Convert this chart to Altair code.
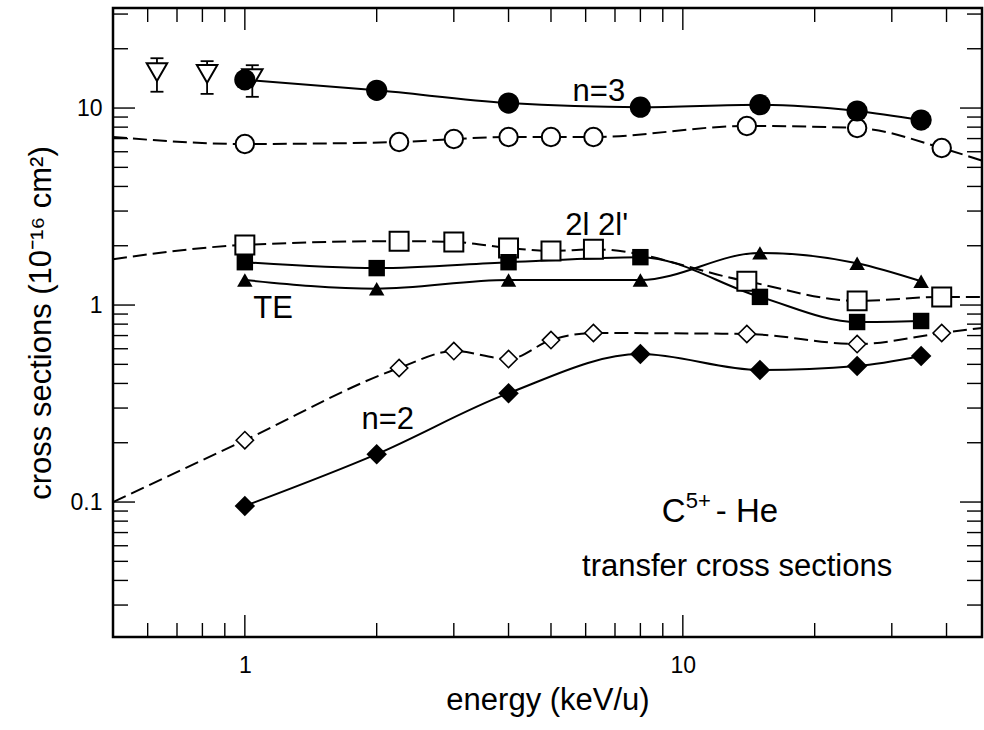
import altair as alt
import pandas as pd

FONT = "Liberation Sans"

# ---------------- data ----------------
# energy in keV/u, cross sections in 1e-16 cm^2
E_EXP = [1, 2, 4, 8, 15, 25, 35]
N3_FULL = [13.9, 12.3, 10.6, 10.1, 10.4, 9.66, 8.69]      # closed circles
L2L2_FULL = [1.65, 1.54, 1.65, 1.75, 1.10, 0.82, 0.83]    # closed squares
TE_FULL = [1.34, 1.21, 1.34, 1.34, 1.84, 1.63, 1.32]      # closed triangles
N2_FULL = [0.0955, 0.175, 0.357, 0.564, 0.468, 0.490, 0.551]  # closed diamonds

E_CALC = [1, 2.25, 3, 4, 5, 6.25, 14, 25, 39]
N3_OPEN = [6.57, 6.72, 6.96, 7.13, 7.13, 7.13, 8.11, 7.92, 6.27]     # open circles
L2L2_OPEN = [2.02, 2.11, 2.09, 1.95, 1.88, 1.92, 1.32, 1.05, 1.10]   # open squares
N2_OPEN = [0.206, 0.479, 0.584, 0.532, 0.664, 0.721, 0.713, 0.634, 0.721]  # open diamonds

# dashed curves continue to the frame edges
E_EDGE = [0.5, 50]
N3_OPEN_EDGE = [7.13, 5.26]
L2L2_OPEN_EDGE = [1.71, 1.10]
N2_OPEN_EDGE = [0.100, 0.773]

# open down-triangles with error bars
E_TRI = [0.63, 0.82, 1.04]
TRI_Y = [15.2, 14.9, 14.2]
TRI_HI = [17.9, 17.3, 16.5]
TRI_LO = [12.1, 11.8, 11.4]

# annotations
LABELS = ["n=3", "2l 2l'", "TE", "n=2"]
LABEL_E = [6.43, 6.36, 1.16, 2.12]
LABEL_S = [12.06, 2.52, 0.954, 0.261]
ION_E = [12.4]
ION_S = [0.089]
SUB_LABEL = ["transfer cross sections"]
SUB_E = [13.3]
SUB_S = [0.0468]

# axis ticks
X_MAJOR = [1, 10]
X_MINOR = [0.5, 0.6, 0.7, 0.8, 0.9, 2, 3, 4, 5, 6, 7, 8, 9, 20, 30, 40]
Y_MAJOR = [0.1, 1, 10]
Y_MINOR = [0.03, 0.04, 0.05, 0.06, 0.07, 0.08, 0.09,
           0.2, 0.3, 0.4, 0.5, 0.6, 0.7, 0.8, 0.9,
           2, 3, 4, 5, 6, 7, 8, 9, 20, 30]

# ---------------- layout ----------------
W, H = 869, 629
LEFT, TOP = 113, 8
xs = alt.Scale(type="log", domain=[0.5, 48.2], nice=False)
ys = alt.Scale(type="log", domain=[0.02065, 32.2], nice=False)

X_AXIS = alt.Axis(values=X_MAJOR, format="~g", ticks=False, tickSize=0, domain=False,
                  grid=False, labelPadding=17, title="energy (keV/u)", titlePadding=8)
Y_AXIS = alt.Axis(values=Y_MAJOR, format="~g", ticks=False, tickSize=0, domain=False,
                  grid=False, labelPadding=11,
                  title="cross sections (10\u207b\u00b9\u2076 cm\u00b2)", titlePadding=13)


def X(field="e"):
    return alt.X(f"{field}:Q", scale=xs, axis=X_AXIS)


def Y(field="s"):
    return alt.Y(f"{field}:Q", scale=ys, axis=Y_AXIS)


def frame(e, s, series):
    return pd.DataFrame({"e": e, "s": s, "series": series})


solid_df = pd.concat([
    frame(E_EXP, N3_FULL, "n3"),
    frame(E_EXP, L2L2_FULL, "l2"),
    frame(E_EXP, TE_FULL, "te"),
    frame(E_EXP, N2_FULL, "n2"),
])
dashed_df = pd.concat([
    frame([E_EDGE[0]] + E_CALC + [E_EDGE[1]], [N3_OPEN_EDGE[0]] + N3_OPEN + [N3_OPEN_EDGE[1]], "n3"),
    frame([E_EDGE[0]] + E_CALC + [E_EDGE[1]], [L2L2_OPEN_EDGE[0]] + L2L2_OPEN + [L2L2_OPEN_EDGE[1]], "l2"),
    frame([E_EDGE[0]] + E_CALC + [E_EDGE[1]], [N2_OPEN_EDGE[0]] + N2_OPEN + [N2_OPEN_EDGE[1]], "n2"),
])

solid = alt.Chart(solid_df).mark_line(color="black", strokeWidth=2, interpolate="monotone",
                                      clip=True).encode(x=X(), y=Y(), detail="series:N")
dashed = alt.Chart(dashed_df).mark_line(color="black", strokeWidth=2, interpolate="monotone",
                                        strokeDash=[14, 6], clip=True).encode(
    x=X(), y=Y(), detail="series:N")


def pts(e, s, **kw):
    return alt.Chart(frame(e, s, "p")).mark_point(opacity=1, **kw).encode(x=X(), y=Y())


WHITE = dict(filled=True, fill="white", stroke="black")
BLACK = dict(filled=True, fill="black", stroke="black", strokeWidth=0)

p_n3_open = pts(E_CALC, N3_OPEN, shape="circle", size=340, strokeWidth=2, **WHITE)
p_l2_open = pts(E_CALC, L2L2_OPEN, shape="square", size=360, strokeWidth=2, **WHITE)
p_n2_open = pts(E_CALC, N2_OPEN, shape="diamond", size=300, strokeWidth=1.6, **WHITE)
p_n3 = pts(E_EXP, N3_FULL, shape="circle", size=450, **BLACK)
p_l2 = pts(E_EXP, L2L2_FULL, shape="square", size=270, **BLACK)
p_te = pts(E_EXP, TE_FULL, shape="triangle-up", size=240, **BLACK)
p_n2 = pts(E_EXP, N2_FULL, shape="diamond", size=420, **BLACK)

tri_df = pd.DataFrame({"e": E_TRI, "s": TRI_Y, "lo": TRI_LO, "hi": TRI_HI})
tri_bar = alt.Chart(tri_df).mark_rule(color="black", strokeWidth=1.8).encode(
    x=X(), y=Y("lo"), y2="hi:Q")
cap_df = pd.DataFrame({"e": E_TRI + E_TRI, "s": TRI_LO + TRI_HI})
tri_cap = alt.Chart(cap_df).mark_tick(color="black", orient="horizontal", size=13,
                                      thickness=1.8, opacity=1).encode(x=X(), y=Y())
tri_pts = alt.Chart(tri_df).mark_point(shape="triangle-down", size=420, strokeWidth=2,
                                       opacity=1, **WHITE).encode(x=X(), y=Y())

lab_df = pd.DataFrame({"e": LABEL_E, "s": LABEL_S, "label": LABELS})
labels = alt.Chart(lab_df).mark_text(font=FONT, fontSize=31, color="black").encode(
    x=X(), y=Y(), text="label:N")

ion_df = pd.DataFrame({"e": ION_E, "s": ION_S})
ion_c = alt.Chart(ion_df).mark_text(font=FONT, fontSize=33, color="black", align="left",
                                    dx=-62, text="C").encode(x=X(), y=Y())
ion_sup = alt.Chart(ion_df).mark_text(font=FONT, fontSize=22, color="black", align="left",
                                      dx=-38, dy=-11, text="5+").encode(x=X(), y=Y())
ion_he = alt.Chart(ion_df).mark_text(font=FONT, fontSize=33, color="black", align="left",
                                     dx=-8, text="- He").encode(x=X(), y=Y())

sub_df = pd.DataFrame({"e": SUB_E, "s": SUB_S, "label": SUB_LABEL})
sub_labels = alt.Chart(sub_df).mark_text(font=FONT, fontSize=31, color="black").encode(
    x=X(), y=Y(), text="label:N")


def xticks(vals, length, top):
    y0 = 0 if top else H
    y1 = length if top else H - length
    return alt.Chart(pd.DataFrame({"e": vals})).mark_rule(color="black", strokeWidth=1.4).encode(
        x=X(), y=alt.value(y0), y2=alt.value(y1))


def yticks(vals, length, right):
    x0 = W if right else 0
    x1 = W - length if right else length
    return alt.Chart(pd.DataFrame({"s": vals})).mark_rule(color="black", strokeWidth=1.4).encode(
        y=Y(), x=alt.value(x0), x2=alt.value(x1))


ticks = [
    xticks(X_MAJOR, 22, False), xticks(X_MINOR, 14, False),
    xticks(X_MAJOR, 22, True), xticks(X_MINOR, 14, True),
    yticks(Y_MAJOR, 22, False), yticks(Y_MINOR, 15, False),
    yticks(Y_MAJOR, 22, True), yticks(Y_MINOR, 15, True),
]

chart = alt.layer(
    *ticks, dashed, solid,
    tri_bar, tri_cap, tri_pts,
    p_n3_open, p_l2_open, p_n2_open, p_n3, p_l2, p_te, p_n2,
    labels, ion_c, ion_sup, ion_he, sub_labels,
).properties(
    width=W, height=H,
    padding={"left": LEFT, "top": TOP, "right": 984 - LEFT - W, "bottom": 730 - TOP - H},
    autosize=alt.AutoSizeParams(type="none"),
    background="white",
).configure_view(
    stroke="black", strokeWidth=2.5
).configure_axis(
    labelFont=FONT, labelFontSize=23, labelColor="black",
    titleFont=FONT, titleFontSize=31, titleFontWeight="normal", titleColor="black",
)

chart.save("out.html", embed_options={"renderer": "svg", "actions": False})
